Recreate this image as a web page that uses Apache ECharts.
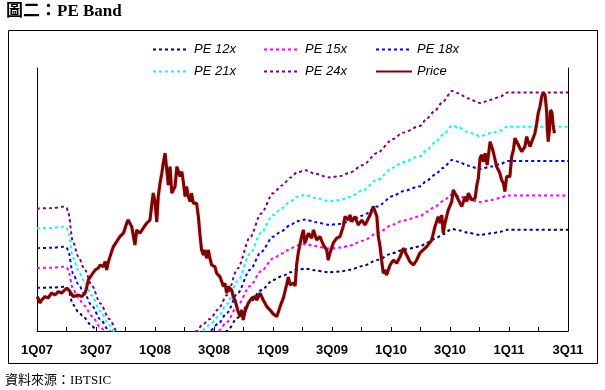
<!DOCTYPE html>
<html>
<head>
<meta charset="utf-8">
<script src="https://cdn.jsdelivr.net/npm/echarts@6/dist/echarts.min.js"></script>
<style>
html,body{margin:0;padding:0;background:#fff;}
#chart{width:605px;height:390px;}
</style>
</head>
<body>
<div id="chart"></div>
<script>
// ---- data ----
const quarterLabels = ['1Q07','2Q07','3Q07','4Q07','1Q08','2Q08','3Q08','4Q08','1Q09','2Q09','3Q09','4Q09','1Q10','2Q10','3Q10','4Q10','1Q11','2Q11','3Q11'];
const peNames = ['PE 12x','PE 15x','PE 18x','PE 21x','PE 24x'];
const peMultiples = [12, 15, 18, 21, 24];
// EPS (trailing) — time in quarters since 1Q07
const epsTime  = [0, 0.5, 0.9, 1.0, 1.05, 1.22, 1.4, 1.6, 1.86, 2.14, 2.45, 2.71, 3.0, 4.0, 5.0, 5.42, 5.6, 5.86, 6.14, 6.44, 6.8, 7.22, 7.6, 8.0, 8.3, 8.6, 8.81, 9.1, 9.4, 9.9, 10.3, 10.6, 11.05, 11.53, 12.07, 12.4, 12.98, 13.22, 13.5, 13.76, 14.07, 14.3, 14.58, 15.02, 15.4, 15.69, 15.95, 18];
const epsValue = [3.30, 3.31, 3.34, 3.32, 3.25, 2.6, 2.3, 2.05, 1.7, 1.33, 1.0, 0.75, 0.6, 0.45, 0.55, 0.75, 0.88, 1.0, 1.2, 1.5, 2.05, 2.7, 3.2, 3.62, 3.78, 3.95, 4.05, 4.1, 4.03, 3.95, 3.98, 4.05, 4.21, 4.46, 4.75, 4.88, 5.02, 5.18, 5.35, 5.53, 5.75, 5.7, 5.6, 5.5, 5.57, 5.63, 5.72, 5.72];
// Price — time in quarters since 1Q07
const priceTime = [0.01,0.10,0.16,0.27,0.37,0.50,0.61,0.72,0.84,1.01,1.12,1.23,1.40,1.52,1.63,1.68,1.74,1.85,1.97,2.08,2.14,2.25,2.31,2.36,2.42,2.53,2.59,2.70,2.81,2.93,3.04,3.09,3.21,3.32,3.38,3.49,3.60,3.72,3.83,3.89,3.94,4.00,4.06,4.11,4.17,4.23,4.28,4.34,4.40,4.45,4.51,4.57,4.68,4.74,4.79,4.85,4.91,4.96,5.02,5.07,5.13,5.19,5.24,5.30,5.41,5.47,5.53,5.58,5.64,5.69,5.75,5.81,5.86,5.92,6.03,6.09,6.20,6.32,6.37,6.43,6.48,6.54,6.60,6.65,6.71,6.77,6.82,6.88,6.94,6.99,7.05,7.11,7.16,7.28,7.39,7.45,7.56,7.67,7.79,7.90,8.01,8.13,8.24,8.35,8.46,8.52,8.58,8.69,8.75,8.80,8.86,8.97,9.03,9.08,9.20,9.31,9.37,9.48,9.59,9.71,9.82,9.87,9.93,10.04,10.16,10.27,10.38,10.44,10.55,10.61,10.67,10.78,10.89,11.01,11.12,11.18,11.29,11.40,11.46,11.52,11.57,11.63,11.68,11.74,11.80,11.85,11.97,12.08,12.19,12.31,12.42,12.53,12.64,12.76,12.87,12.98,13.21,13.38,13.49,13.60,13.66,13.72,13.77,13.83,13.94,14.06,14.11,14.17,14.23,14.34,14.40,14.51,14.57,14.62,14.74,14.85,14.91,14.96,15.02,15.07,15.13,15.19,15.26,15.36,15.45,15.53,15.58,15.64,15.69,15.75,15.81,15.86,15.92,15.98,16.03,16.09,16.15,16.20,16.26,16.32,16.37,16.43,16.48,16.54,16.60,16.65,16.71,16.77,16.88,16.94,16.99,17.05,17.11,17.16,17.22,17.25,17.28,17.30,17.33,17.37,17.41,17.46,17.50,17.54];
const priceValue = [35.2,32.0,33.5,35.2,34.5,37.0,36.0,37.7,37.0,39.5,37.7,35.2,36.0,35.2,37.0,39.5,43.5,46.0,48.5,49.5,51.0,50.2,52.7,48.5,52.7,57.7,60.2,62.7,65.2,66.9,71.9,73.5,70.2,61.0,68.5,66.9,69.4,71.9,73.5,81.0,87.0,82.7,72.5,85.2,91.9,96.9,101.9,106.9,98.5,91.0,100.2,86.9,90.2,100.2,101.0,95.2,97.7,92.7,85.2,90.2,85.2,82.7,86.9,81.9,81.9,75.2,65.2,58.5,56.0,58.5,54.4,58.5,54.4,51.0,50.2,46.9,45.2,40.2,41.9,36.9,40.2,41.0,38.5,35.2,33.5,30.2,27.7,25.2,28.5,23.5,27.7,28.5,31.9,34.4,35.2,33.5,36.9,33.5,30.2,28.5,26.5,25.2,30.2,34.5,41.0,45.0,41.0,42.0,40.5,51.0,57.5,65.2,68.5,61.9,66.9,64.4,68.5,63.5,65.2,61.0,58.5,53.5,56.9,61.9,64.4,65.2,70.2,75.2,73.5,76.0,72.7,75.2,71.0,73.5,71.0,72.7,76.0,80.2,77.7,75.2,65.2,60.2,53.5,46.9,48.5,46.0,51.0,53.5,51.9,55.2,59.4,56.0,52.7,51.0,53.5,57.0,60.2,63.5,70.2,75.2,71.9,76.0,66.9,71.9,78.5,82.7,88.5,86.9,86.0,81.9,80.2,85.2,82.7,86.9,83.5,84.4,91.0,94.4,104.4,106.0,102.7,106.9,101.0,112.7,108.5,103.5,100.2,98.5,96.9,93.5,91.9,87.7,95.2,96.0,95.2,105.2,108.5,114.4,113.5,111.0,109.4,107.7,108.5,110.2,115.2,112.7,110.2,111.0,116.9,121.9,126.9,130.2,135.2,137.2,136.0,132.0,126.9,118.5,112.7,118.5,128.5,126.9,120.2,116.9];

// ---- styles ----
const peColors = ['#000080', '#FF00FF', '#0000FF', '#00FFFF', '#800080'];
const priceColor = '#800000';
const latin = "'Liberation Sans', Arial, sans-serif";
const serif = "'Liberation Serif', 'Noto Sans CJK TC', serif";

const chart = echarts.init(document.getElementById('chart'), null, {renderer: 'canvas'});

const bandSeries = peMultiples.map((m, i) => ({
  name: peNames[i],
  type: 'line',
  yAxisIndex: 0,
  symbol: 'none',
  showSymbol: false,
  smooth: 0.3,
  smoothMonotone: 'x',
  clip: true,
  silent: true,
  lineStyle: {color: peColors[i], width: 2, type: [3, 3]},
  itemStyle: {color: peColors[i]},
  data: epsTime.map((t, j) => [t, +(epsValue[j] * m).toFixed(2)])
}));

const priceSeries = {
  name: 'Price',
  type: 'line',
  yAxisIndex: 0,
  symbol: 'none',
  showSymbol: false,
  clip: true,
  silent: true,
  z: 5,
  lineStyle: {color: priceColor, width: 3, shadowColor: 'rgba(128,0,0,0.3)', shadowBlur: 2},
  itemStyle: {color: priceColor},
  data: priceTime.map((t, j) => [t, priceValue[j]])
};

const legendPos = [
  {name: 'PE 12x', left: 147, top: 38},
  {name: 'PE 15x', left: 258, top: 38},
  {name: 'PE 18x', left: 370, top: 38},
  {name: 'PE 21x', left: 147, top: 60},
  {name: 'PE 24x', left: 258, top: 60},
  {name: 'Price',  left: 370, top: 60}
];

const yAxisBase = {
  type: 'value', min: 18, max: 149.5,
  axisLine: {show: true, onZero: false, lineStyle: {color: '#000', width: 1}},
  axisTick: {show: false}, axisLabel: {show: false}, splitLine: {show: false}
};

chart.setOption({
  animation: false,
  backgroundColor: '#fff',
  grid: {left: 37, right: 37, top: 68, bottom: 59},
  legend: legendPos.map(p => ({
    data: [p.name], left: p.left, top: p.top,
    itemWidth: 36, itemHeight: 10, selectedMode: false,
    itemStyle: {opacity: 0},
    textStyle: {fontStyle: 'italic', fontSize: 13, color: '#000', fontFamily: latin}
  })),
  xAxis: {
    type: 'value', min: 0, max: 18, interval: 1,
    axisLine: {onZero: false, lineStyle: {color: '#000', width: 1}},
    axisTick: {inside: true, length: 4, lineStyle: {color: '#000'}},
    splitLine: {show: false},
    axisLabel: {
      color: '#000', fontWeight: 'bold', fontSize: 13, fontFamily: latin, margin: 13,
      showMinLabel: true, showMaxLabel: true,
      formatter: v => { const i = Math.round(v); return i % 2 === 0 ? quarterLabels[i] : ''; }
    }
  },
  yAxis: [Object.assign({position: 'left'}, yAxisBase), Object.assign({position: 'right'}, yAxisBase)],
  series: bandSeries.concat([priceSeries]),
  graphic: [
    {type: 'rect', shape: {x: 8.5, y: 30.5, width: 589, height: 333}, style: {fill: 'none', stroke: '#000', lineWidth: 1}, silent: true},
    {type: 'text', left: 6, top: 3, style: {text: '圖二：PE Band', font: "bold 17px " + serif, fill: '#000'}},
    {type: 'text', left: 5, top: 374, style: {text: '資料來源：IBTSIC', font: "13px " + serif, fill: '#000'}}
  ]
});
</script>
</body>
</html>
